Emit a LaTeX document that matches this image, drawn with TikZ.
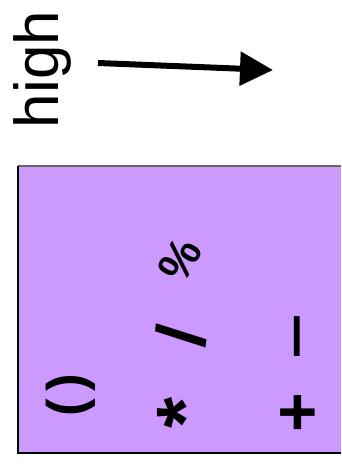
\documentclass[tikz,border=0pt]{standalone}
\usepackage{fontspec}
\setmainfont{Liberation Sans}
\usetikzlibrary{arrows.meta}
\definecolor{boxfill}{HTML}{CC99FF}
\begin{document}
\begin{tikzpicture}[x=1pt,y=-1pt,
  sym/.style={inner sep=0pt, text=black},
  lbl/.style={inner sep=0pt, font=\fontsize{62}{62}\selectfont}]
\useasboundingbox (0,0) rectangle (341,471);
% label and arrow
\node[lbl, rotate=90] (high) at (42,69.5) {high};
\coordinate (arrs) at (98,63);
\coordinate (arre) at (273,70);
\draw[line width=6pt, -{Triangle[length=33pt,width=33pt]}] (arrs) -- (arre);
% box
\fill[boxfill] (18,166) rectangle (341,453);
\draw[line width=1.5pt, black!60] (341,166) -- (18,166);
\draw[line width=2.5pt] (18,165.5) -- (18,453) -- (341,453);
% symbols
\node[sym, rotate=60, font=\fontsize{46}{46}\selectfont\bfseries] (pct) at (180,260) {\%};
\node[sym, rotate=83, font=\fontsize{70}{70}\selectfont\bfseries] (slash) at (181,336) {/};
\node[sym, rotate=90, font=\fontsize{82}{82}\selectfont] (minus) at (309.5,337) {−};
\node[sym, rotate=90, font=\fontsize{53}{53}\selectfont\bfseries] (paren) at (71,395) {(\kern8pt)};
\node[sym, rotate=90, font=\fontsize{80}{80}\selectfont\bfseries] (star) at (185,413) {*};
\node[sym, rotate=90, font=\fontsize{68}{68}\selectfont\bfseries] (plus) at (301,413) {+};
\end{tikzpicture}
\end{document}
